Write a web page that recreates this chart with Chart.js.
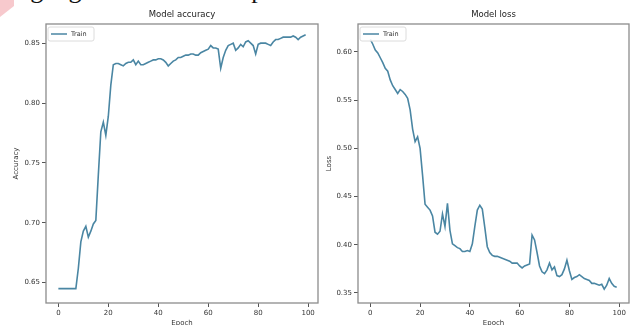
<!DOCTYPE html>
<html lang="en">
<head>
    <meta charset="UTF-8">
    <title>Model accuracy and loss</title>
    <style>
        html, body { margin: 0; padding: 0; background: #fff; overflow: hidden; }
        body { width: 631px; height: 325px; position: relative; }
        .page-text {
            position: absolute; left: -3px; top: -25px;
            font-family: "Liberation Serif", serif; font-size: 26px; color: #111;
            white-space: nowrap;
        }
        .corner {
            position: absolute; left: 0; top: 0; width: 14px; height: 17px;
            background: #f7c9cd; clip-path: polygon(0 0, 100% 0, 100% 35%, 0 100%);
        }
        #accChart { position: absolute; left: 0; top: 0; }
        #lossChart { position: absolute; left: 320px; top: 0; }
    </style>
</head>
<body>
    <div class="page-text">ying algorithm and data pattern</div>
    <div class="corner"></div>
    <canvas id="accChart" width="320" height="332"></canvas>
    <canvas id="lossChart" width="311" height="332"></canvas>

    <script src="https://cdn.jsdelivr.net/npm/chart.js@4.4.1/dist/chart.umd.min.js"></script>
    <script>
        // values, one per epoch (0..99)
        const accuracy = [
            0.645, 0.645, 0.645, 0.645, 0.645, 0.645, 0.645, 0.645, 0.662, 0.684,
            0.693, 0.697, 0.688, 0.693, 0.699, 0.702, 0.740, 0.776, 0.784, 0.773,
            0.789, 0.815, 0.832, 0.833, 0.833, 0.832, 0.831, 0.833, 0.834, 0.834,
            0.836, 0.832, 0.835, 0.832, 0.832, 0.833, 0.834, 0.835, 0.836, 0.836,
            0.837, 0.837, 0.836, 0.834, 0.831, 0.833, 0.835, 0.836, 0.838, 0.838,
            0.839, 0.840, 0.840, 0.841, 0.841, 0.840, 0.840, 0.842, 0.843, 0.844,
            0.845, 0.848, 0.846, 0.846, 0.845, 0.829, 0.838, 0.844, 0.848, 0.849,
            0.850, 0.844, 0.846, 0.849, 0.847, 0.851, 0.852, 0.850, 0.848, 0.841,
            0.849, 0.850, 0.850, 0.850, 0.849, 0.848, 0.851, 0.853, 0.853, 0.854,
            0.855, 0.855, 0.855, 0.855, 0.856, 0.855, 0.853, 0.855, 0.856, 0.857
        ];
        const loss = [
            0.613, 0.608, 0.602, 0.599, 0.594, 0.589, 0.583, 0.580, 0.571, 0.565,
            0.561, 0.557, 0.561, 0.559, 0.556, 0.552, 0.540, 0.520, 0.507, 0.512,
            0.500, 0.472, 0.442, 0.439, 0.436, 0.430, 0.413, 0.411, 0.414, 0.432,
            0.419, 0.443, 0.415, 0.401, 0.399, 0.397, 0.396, 0.393, 0.393, 0.394,
            0.393, 0.401, 0.419, 0.436, 0.441, 0.437, 0.418, 0.398, 0.392, 0.389,
            0.388, 0.388, 0.387, 0.386, 0.385, 0.384, 0.383, 0.381, 0.381, 0.381,
            0.378, 0.376, 0.378, 0.379, 0.380, 0.410, 0.405, 0.392, 0.378, 0.372,
            0.370, 0.374, 0.381, 0.374, 0.377, 0.368, 0.367, 0.369, 0.375, 0.384,
            0.373, 0.364, 0.366, 0.367, 0.369, 0.367, 0.365, 0.364, 0.363, 0.360,
            0.360, 0.359, 0.358, 0.359, 0.354, 0.358, 0.365, 0.360, 0.357, 0.356
        ];
        const epochs = accuracy.map(function (v, i) { return i; });
        const epochTicks = [0, 20, 40, 60, 80, 100];
        const accTicks = [0.65, 0.70, 0.75, 0.80, 0.85];
        const lossTicks = [0.35, 0.40, 0.45, 0.50, 0.55, 0.60];

        const lineColor = '#4a86a3';
        const textColor = '#333';
        const fontFamily = 'DejaVu Sans';

        // matplotlib-like frame on all four sides, the title over the plot area and the small legend box
        const framePlugin = {
            id: 'frame',
            afterDatasetsDraw(chart) {
                const ctx = chart.ctx;
                const a = chart.chartArea;
                const ds = chart.data.datasets[0];
                ctx.save();
                ctx.strokeStyle = '#8c8c8c';
                ctx.lineWidth = 1.3;
                ctx.strokeRect(a.left, a.top, a.right - a.left, a.bottom - a.top);

                // title, centred on the axes like matplotlib does
                ctx.fillStyle = '#222';
                ctx.font = '8.5px "' + fontFamily + '"';
                ctx.textAlign = 'center';
                ctx.textBaseline = 'middle';
                ctx.fillText(chart.options.frameTitle, (a.left + a.right) / 2, 15);

                const x = a.left + 2, y = a.top + 3;
                ctx.beginPath();
                ctx.roundRect(x, y, 46, 14, 2);
                ctx.fillStyle = 'rgba(255,255,255,0.85)';
                ctx.fill();
                ctx.strokeStyle = '#dcdcdc';
                ctx.lineWidth = 1;
                ctx.stroke();

                ctx.beginPath();
                ctx.moveTo(x + 3, y + 7);
                ctx.lineTo(x + 19, y + 7);
                ctx.strokeStyle = ds.borderColor;
                ctx.lineWidth = 1.5;
                ctx.stroke();

                ctx.fillStyle = textColor;
                ctx.font = '6.5px "' + fontFamily + '"';
                ctx.textAlign = 'left';
                ctx.fillText(ds.label, x + 23, y + 7.5);
                ctx.restore();
            }
        };

        function makeChart(id, values, yMin, yMax, yTicks, title, yLabel, yWidth, yLabelPad) {
            const ctx = document.getElementById(id).getContext('2d');
            return new Chart(ctx, {
                type: 'line',
                data: {
                    labels: epochs,
                    datasets: [{
                        label: 'Train',
                        data: values,
                        borderColor: lineColor,
                        borderWidth: 1.6,
                        pointRadius: 0,
                        tension: 0,
                        fill: false
                    }]
                },
                options: {
                    responsive: false,
                    animation: false,
                    devicePixelRatio: 1,
                    frameTitle: title,
                    layout: { padding: { left: 0, right: 2, top: 24, bottom: 0 } },
                    plugins: {
                        legend: { display: false },
                        tooltip: { enabled: false },
                        title: { display: false }
                    },
                    scales: {
                        x: {
                            type: 'linear',
                            min: -4.95,
                            max: 103.95,
                            afterBuildTicks: function (scale) {
                                scale.ticks = epochTicks.map(function (v) { return { value: v }; });
                            },
                            afterFit: function (scale) {
                                scale.height = 29;
                                scale.paddingLeft = 0;
                                scale.paddingRight = 0;
                            },
                            grid: { drawOnChartArea: false, drawTicks: true, tickLength: 4, tickColor: '#555' },
                            border: { display: false },
                            ticks: {
                                color: textColor,
                                font: { family: fontFamily, size: 7 },
                                padding: 2,
                                maxRotation: 0,
                                autoSkip: false,
                                callback: function (v) { return String(v); }
                            },
                            title: {
                                display: true,
                                text: 'Epoch',
                                color: textColor,
                                font: { family: fontFamily, size: 7 },
                                padding: { top: 0, bottom: 4.8 }
                            }
                        },
                        y: {
                            min: yMin,
                            max: yMax,
                            afterBuildTicks: function (scale) {
                                scale.ticks = yTicks.map(function (v) { return { value: v }; });
                            },
                            afterFit: function (scale) {
                                scale.width = yWidth;
                                scale.paddingTop = 0;
                                scale.paddingBottom = 0;
                            },
                            grid: { drawOnChartArea: false, drawTicks: true, tickLength: 4, tickColor: '#555' },
                            border: { display: false },
                            ticks: {
                                color: textColor,
                                font: { family: fontFamily, size: 7 },
                                padding: 2,
                                autoSkip: false,
                                callback: function (v) { return v.toFixed(2); }
                            },
                            title: {
                                display: true,
                                text: yLabel,
                                color: textColor,
                                font: { family: fontFamily, size: 7 },
                                padding: { top: yLabelPad, bottom: 0 }
                            }
                        }
                    }
                },
                plugins: [framePlugin]
            });
        }

        makeChart('accChart', accuracy, 0.633, 0.866, accTicks, 'Model accuracy', 'Accuracy', 46, 12);
        makeChart('lossChart', loss, 0.3396, 0.629, lossTicks, 'Model loss', 'Loss', 38, 4.8);
    </script>
</body>
</html>
